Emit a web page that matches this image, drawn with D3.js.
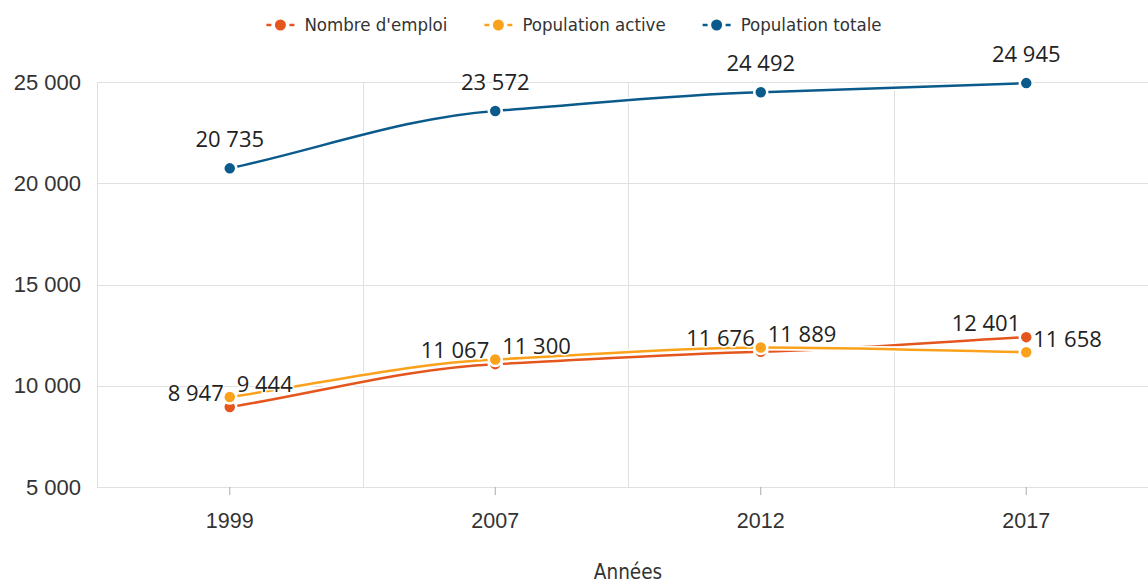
<!DOCTYPE html>
<html>
<head>
<meta charset="utf-8">
<script src="https://cdn.jsdelivr.net/npm/d3@7"></script>
<style>
  html, body { margin: 0; padding: 0; background: #fff; }
  svg { display: block; font-family: "Open Sans", "Noto Sans", sans-serif; }
</style>
</head>
<body>
<svg id="chart" width="1148" height="583"></svg>
<script>
// Years on the horizontal axis
const years = ["1999", "2007", "2012", "2017"];
// Series values
const emploi = [8947, 11067, 11676, 12401];
const active = [9444, 11300, 11889, 11658];
const totale = [20735, 23572, 24492, 24945];
// Vertical axis ticks
const yTicks = [5000, 10000, 15000, 20000, 25000];
const seriesNames = ["Nombre d'emploi", "Population active", "Population totale"];
const xTitle = "Années";

const fr = d3.formatLocale({ decimal: ",", thousands: " ", grouping: [3], currency: ["", " €"] });
const fmt = fr.format(",d");

const series = [
  { name: seriesNames[0], values: emploi, color: "#e4561d", label: { anchor: "end", dx: -6, dy: -14 } },
  { name: seriesNames[1], values: active, color: "#fba21c", label: { anchor: "start", dx: 7, dy: -13 } },
  { name: seriesNames[2], values: totale, color: "#0b5a8c", label: { anchor: "middle", dx: 0, dy: -29 } }
];

const W = 1148, H = 583;
const plot = { left: 97, right: 1159, top: 82, bottom: 487 };
const condensed = "'DejaVu Sans Condensed', 'DejaVu Sans', sans-serif";

const svg = d3.select("#chart");

const x = d3.scaleBand().domain(years).range([plot.left, plot.right]).padding(0);
const cx = d => x(d) + x.bandwidth() / 2;
const y = d3.scaleLinear().domain([5000, 25000]).range([plot.bottom, plot.top]);

// Hermite spline through the points: inner tangents follow the
// Fritsch–Carlson monotone rule, end tangents follow the end segment.
function smoothPath(pts) {
  const n = pts.length;
  const h = [], s = [];
  for (let i = 0; i < n - 1; i++) {
    h[i] = pts[i + 1][0] - pts[i][0];
    s[i] = (pts[i + 1][1] - pts[i][1]) / h[i];
  }
  const m = [];
  m[0] = s[0];
  m[n - 1] = s[n - 2];
  for (let i = 1; i < n - 1; i++) {
    const a = s[i - 1], b = s[i];
    if (a * b <= 0) { m[i] = 0; continue; }
    const p = (a * h[i] + b * h[i - 1]) / (h[i - 1] + h[i]);
    m[i] = Math.sign(a) * Math.min(Math.abs(a), Math.abs(b), 0.5 * Math.abs(p));
  }
  const path = d3.path();
  path.moveTo(pts[0][0], pts[0][1]);
  for (let i = 0; i < n - 1; i++) {
    const d = h[i] / 3;
    path.bezierCurveTo(
      pts[i][0] + d, pts[i][1] + d * m[i],
      pts[i + 1][0] - d, pts[i + 1][1] - d * m[i + 1],
      pts[i + 1][0], pts[i + 1][1]);
  }
  return path.toString();
}

// Horizontal grid
const grid = svg.append("g");
grid.selectAll("line.h").data(yTicks).join("line")
  .attr("x1", plot.left).attr("x2", W)
  .attr("y1", d => Math.round(y(d)) + 0.5).attr("y2", d => Math.round(y(d)) + 0.5)
  .attr("stroke", "#e0e0e0").attr("stroke-width", 1);
// Vertical grid at band boundaries
grid.selectAll("line.v").data(years).join("line")
  .attr("x1", d => Math.round(x(d)) + 0.5).attr("x2", d => Math.round(x(d)) + 0.5)
  .attr("y1", plot.top).attr("y2", plot.bottom)
  .attr("stroke", "#e0e0e0").attr("stroke-width", 1);

// Y axis labels
const yAxis = svg.append("g")
  .attr("transform", `translate(${plot.left},0)`)
  .call(d3.axisLeft(y).tickValues(yTicks).tickFormat(fmt).tickSize(0).tickPadding(16));
yAxis.select(".domain").remove();
yAxis.selectAll("text").attr("font-size", 22).attr("fill", "#333").attr("font-family", "inherit");

// X axis ticks + labels
const xAxis = svg.append("g")
  .attr("transform", `translate(0,${plot.bottom})`)
  .call(d3.axisBottom(x).tickSize(8).tickPadding(18));
xAxis.select(".domain").remove();
xAxis.selectAll(".tick line").attr("stroke", "#aaa");
xAxis.selectAll("text").attr("font-size", 21.5).attr("fill", "#333").attr("font-family", "inherit");

// Axis title
svg.append("text")
  .attr("x", (plot.left + plot.right) / 2).attr("y", 579)
  .attr("text-anchor", "middle").attr("font-size", 20.5).attr("fill", "#333")
  .attr("font-family", condensed)
  .text(xTitle);

// Series
series.forEach(s => {
  const pts = s.values.map((v, i) => [cx(years[i]), y(v)]);
  const d = smoothPath(pts);
  const g = svg.append("g");
  g.append("path").attr("d", d)
    .attr("fill", "none").attr("stroke", "#fff").attr("stroke-width", 6).attr("stroke-linecap", "round");
  g.append("path").attr("d", d)
    .attr("fill", "none").attr("stroke", s.color).attr("stroke-width", 2.5);
  g.selectAll("circle").data(s.values).join("circle")
    .attr("cx", (v, i) => cx(years[i])).attr("cy", v => y(v))
    .attr("r", 6.5).attr("fill", s.color).attr("stroke", "#fff").attr("stroke-width", 2.5);
});

// Value labels
series.forEach(s => {
  svg.append("g").selectAll("text").data(s.values).join("text")
    .attr("x", (d, i) => cx(years[i]) + s.label.dx)
    .attr("y", d => y(d) + s.label.dy)
    .attr("dy", "0.35em")
    .attr("text-anchor", s.label.anchor)
    .attr("font-size", 22).attr("fill", "#222")
    .attr("stroke", "#fff").attr("stroke-width", 3).attr("paint-order", "stroke")
    .text(d => fmt(d));
});

// Legend
const legend = svg.append("g").attr("font-family", condensed);
const items = legend.selectAll("g").data(series).join("g");
items.each(function (s) {
  const g = d3.select(this);
  g.append("line").attr("x1", 0).attr("x2", 5).attr("y1", 0).attr("y2", 0)
    .attr("stroke", s.color).attr("stroke-width", 2.5);
  g.append("line").attr("x1", 23).attr("x2", 28).attr("y1", 0).attr("y2", 0)
    .attr("stroke", s.color).attr("stroke-width", 2.5);
  g.append("circle").attr("cx", 14).attr("cy", 0).attr("r", 5.5).attr("fill", s.color);
  g.append("text").attr("x", 38).attr("y", 0).attr("dy", "0.35em")
    .attr("font-size", 18.5).attr("fill", "#333").text(s.name);
});
const widths = [];
items.each(function () { widths.push(this.getBBox().width); });
const gap = 37;
const total = d3.sum(widths) + gap * (widths.length - 1);
let pos = (W - total) / 2;
items.attr("transform", (d, i) => {
  const t = `translate(${pos},25)`;
  pos += widths[i] + gap;
  return t;
});
</script>
</body>
</html>
